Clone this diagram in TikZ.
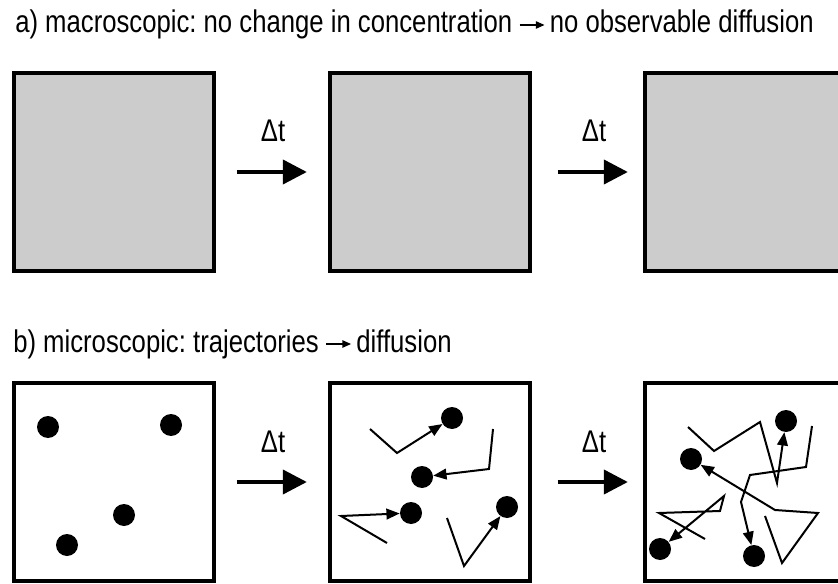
\documentclass[tikz,border=0pt]{standalone}
\usepackage{fontspec}
\setmainfont{Liberation Sans}[FakeStretch=0.82]
\usetikzlibrary{arrows.meta}
\definecolor{boxgray}{RGB}{204, 204, 204}
\frenchspacing

\begin{document}
\begin{tikzpicture}[x=0.75pt, y=-0.75pt,
    box/.style={draw, line width=3pt, minimum width=150pt, minimum height=148pt, inner sep=0pt, outer sep=0pt},
    dot/.style={circle, fill=black, inner sep=0pt, minimum size=16.5pt},
    dtarrow/.style={line width=3pt, -{Triangle[length=18pt, width=18pt]}},
    traj/.style={line width=1.5pt, -{Triangle[length=10pt, width=8pt]}},
    headarrow/.style={line width=1pt, -{Triangle[length=6.5pt, width=5.5pt]}},
    lbl/.style={inner sep=0pt, font=\fontsize{23.5}{28}\selectfont}]
        \useasboundingbox (0,0) rectangle (838,584);
        \node[lbl, anchor=base west] (ta1) at (15,33) {a) macroscopic: no change in concentration};
        \node[lbl, anchor=base west] (ta2) at ([xshift=27.75pt]ta1.base east) {no observable diffusion};
        \draw[headarrow] ([xshift=5.25pt, yshift=6pt]ta1.base east) -- ([xshift=-3.75pt, yshift=6pt]ta2.base west);
        \node[box, fill=boxgray] (ma1) at (114,172) {};
        \node[box, fill=boxgray] (ma2) at (429.5,172) {};
        \node[box, fill=boxgray] (ma3) at (744.5,172) {};
        \draw[dtarrow] ([xshift=17pt]ma1.east) -- ([xshift=-17pt]ma2.west);
        \draw[dtarrow] ([xshift=21pt]ma2.east) -- ([xshift=-12.5pt]ma3.west);
        \node[lbl, anchor=base] (da1) at (273,142) {Δt};
        \node[lbl, anchor=base] (da2) at (594,142) {Δt};
        \node[lbl, anchor=base west] (tb1) at (13,352) {b) microscopic: trajectories};
        \node[lbl, anchor=base west] (tb2) at ([xshift=27.75pt]tb1.base east) {diffusion};
        \draw[headarrow] ([xshift=5.25pt, yshift=6pt]tb1.base east) -- ([xshift=-3.75pt, yshift=6pt]tb2.base west);
        \node[box] (mi1) at (114,482) {};
        \node[box] (mi2) at (429.5,482) {};
        \node[box] (mi3) at (744.5,482) {};
        \draw[dtarrow] ([xshift=17pt]mi1.east) -- ([xshift=-17pt]mi2.west);
        \draw[dtarrow] ([xshift=21pt]mi2.east) -- ([xshift=-12.5pt]mi3.west);
        \node[lbl, anchor=base] (db1) at (273,452) {Δt};
        \node[lbl, anchor=base] (db2) at (594,452) {Δt};
        \node[dot] (p1) at (48,427) {};
        \node[dot] (p2) at (171,425) {};
        \node[dot] (p3) at (124,515) {};
        \node[dot] (p4) at (67,545) {};
        \node[dot] (q1) at (452,418) {};
        \node[dot] (q2) at (422,477) {};
        \node[dot] (q3) at (411,513) {};
        \node[dot] (q4) at (507,507) {};
        \draw[traj] (370,429) -- (397,453) -- (q1);
        \draw[traj] (493,429) -- (489,469) -- (q2);
        \draw[traj] (387,543) -- (341,516) -- (q3);
        \draw[traj] (447,518) -- (464,566) -- (q4);
        \node[dot] (r1) at (786,421) {};
        \node[dot] (r2) at (691,459) {};
        \node[dot] (r3) at (660,549) {};
        \node[dot] (r4) at (754,556) {};
        \draw[traj] (688,427) -- (714,451) -- (760,422) -- (777,483) -- (r1);
        \draw[traj] (765,516) -- (782,563) -- (818,513) -- (775,510) -- (r2);
        \draw[traj] (705,539) -- (659,513) -- (720,511) -- (724,496) -- (r3);
        \draw[traj] (812,426) -- (806,467) -- (750,475) -- (741,502) -- (r4);
      \end{tikzpicture}
\end{document}
